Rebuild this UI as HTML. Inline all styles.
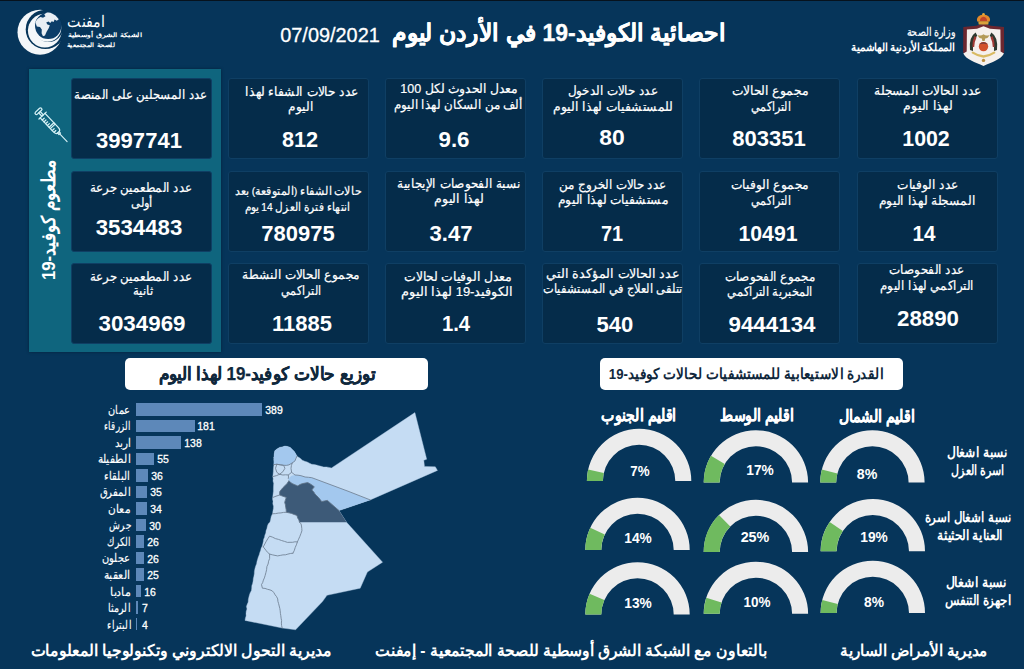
<!DOCTYPE html>
<html lang="ar" dir="rtl"><head><meta charset="utf-8"><title>احصائية الكوفيد-19 في الأردن</title>
<style>
*{margin:0;padding:0;box-sizing:border-box}
html,body{width:1024px;height:669px;overflow:hidden;background:#06355a}
body{position:relative;font-family:"Liberation Sans",sans-serif;color:#fff;direction:rtl}
.abs{position:absolute}
.t{position:absolute;white-space:nowrap;line-height:1;text-align:center}
.card{position:absolute;background:#052c4a;width:141px;height:81px;border-radius:3px;border:1px solid #0f3f64}
.b{font-weight:bold}
.n{direction:ltr}
</style></head>
<body>
<div class="abs" style="left:0;top:0;width:1024px;height:1px;background:#06121d"></div>
<div class="abs" style="left:29px;top:69px;width:192px;height:283px;background:#0f657e;box-shadow:0 0 3px rgba(0,0,0,.35)"></div>
<div class="card" style="left:71px;top:78px"></div>
<div class="t" style="left:141.4px;top:95.4px;font-size:13.2px;transform:translate(-50%,-50%) scaleX(0.907);-webkit-text-stroke:.2px #fff">عدد المسجلين على المنصة</div>
<div class="t b n" style="left:138.5px;top:140.5px;font-size:22px;transform:translate(-50%,-50%) scaleX(1.002);">3997741</div>
<div class="card" style="left:228px;top:78px"></div>
<div class="t" style="left:301.6px;top:92.3px;font-size:13.2px;transform:translate(-50%,-50%) scaleX(0.938);-webkit-text-stroke:.2px #fff">عدد حالات الشفاء لهذا</div>
<div class="t" style="left:301.4px;top:107.1px;font-size:13.2px;transform:translate(-50%,-50%) scaleX(0.930);-webkit-text-stroke:.2px #fff">اليوم</div>
<div class="t b n" style="left:300.4px;top:139.5px;font-size:22px;transform:translate(-50%,-50%) scaleX(0.986);">812</div>
<div class="card" style="left:385px;top:78px"></div>
<div class="t" style="left:458.8px;top:89.3px;font-size:13.2px;transform:translate(-50%,-50%) scaleX(0.947);-webkit-text-stroke:.2px #fff">معدل الحدوث لكل 100</div>
<div class="t" style="left:457.7px;top:104.6px;font-size:13.2px;transform:translate(-50%,-50%) scaleX(0.909);-webkit-text-stroke:.2px #fff">ألف من السكان لهذا اليوم</div>
<div class="t b n" style="left:453.9px;top:139.8px;font-size:22px;transform:translate(-50%,-50%) scaleX(1.013);">9.6</div>
<div class="card" style="left:542px;top:78px"></div>
<div class="t" style="left:613.4px;top:91.4px;font-size:13.2px;transform:translate(-50%,-50%) scaleX(0.920);-webkit-text-stroke:.2px #fff">عدد حالات الدخول</div>
<div class="t" style="left:612.6px;top:106.7px;font-size:13.2px;transform:translate(-50%,-50%) scaleX(0.947);-webkit-text-stroke:.2px #fff">للمستشفيات لهذا اليوم</div>
<div class="t b n" style="left:612.1px;top:138.3px;font-size:22px;transform:translate(-50%,-50%) scaleX(1.041);">80</div>
<div class="card" style="left:699px;top:78px"></div>
<div class="t" style="left:770.2px;top:91.4px;font-size:13.2px;transform:translate(-50%,-50%) scaleX(0.950);-webkit-text-stroke:.2px #fff">مجموع الحالات</div>
<div class="t" style="left:770.5px;top:106.7px;font-size:13.2px;transform:translate(-50%,-50%) scaleX(0.842);-webkit-text-stroke:.2px #fff">التراكمي</div>
<div class="t b n" style="left:769.3px;top:138.5px;font-size:22px;transform:translate(-50%,-50%) scaleX(1.002);">803351</div>
<div class="card" style="left:857px;top:78px"></div>
<div class="t" style="left:927.5px;top:91.4px;font-size:13.2px;transform:translate(-50%,-50%) scaleX(0.939);-webkit-text-stroke:.2px #fff">عدد الحالات المسجلة</div>
<div class="t" style="left:928.2px;top:106.1px;font-size:13.2px;transform:translate(-50%,-50%) scaleX(0.950);-webkit-text-stroke:.2px #fff">لهذا اليوم</div>
<div class="t b n" style="left:925.9px;top:139.2px;font-size:22px;transform:translate(-50%,-50%) scaleX(0.970);">1002</div>
<div class="card" style="left:71px;top:170.5px"></div>
<div class="t" style="left:141.4px;top:188.0px;font-size:13.2px;transform:translate(-50%,-50%) scaleX(0.906);-webkit-text-stroke:.2px #fff">عدد المطعمين جرعة</div>
<div class="t" style="left:141.9px;top:202.7px;font-size:13.2px;transform:translate(-50%,-50%) scaleX(0.880);-webkit-text-stroke:.2px #fff">أولى</div>
<div class="t b n" style="left:138.8px;top:227.9px;font-size:22px;transform:translate(-50%,-50%) scaleX(1.010);">3534483</div>
<div class="card" style="left:228px;top:170.5px"></div>
<div class="t" style="left:297.8px;top:191.4px;font-size:11.6px;transform:translate(-50%,-50%) scaleX(0.917);-webkit-text-stroke:.2px #fff">حالات الشفاء (المتوقعة) بعد</div>
<div class="t" style="left:296.8px;top:206.7px;font-size:11.6px;transform:translate(-50%,-50%) scaleX(0.876);-webkit-text-stroke:.2px #fff">انتهاء فترة العزل 14 يوم</div>
<div class="t b n" style="left:297.9px;top:234.2px;font-size:22px;transform:translate(-50%,-50%) scaleX(0.998);">780975</div>
<div class="card" style="left:385px;top:170.5px"></div>
<div class="t" style="left:458.8px;top:184.3px;font-size:13.2px;transform:translate(-50%,-50%) scaleX(0.927);-webkit-text-stroke:.2px #fff">نسبة الفحوصات الإيجابية</div>
<div class="t" style="left:459.0px;top:198.7px;font-size:13.2px;transform:translate(-50%,-50%) scaleX(0.962);-webkit-text-stroke:.2px #fff">لهذا اليوم</div>
<div class="t b n" style="left:450.9px;top:233.6px;font-size:22px;transform:translate(-50%,-50%) scaleX(1.002);">3.47</div>
<div class="card" style="left:542px;top:170.5px"></div>
<div class="t" style="left:612.6px;top:185.2px;font-size:13.2px;transform:translate(-50%,-50%) scaleX(0.918);-webkit-text-stroke:.2px #fff">عدد حالات الخروج من</div>
<div class="t" style="left:612.6px;top:199.7px;font-size:13.2px;transform:translate(-50%,-50%) scaleX(0.941);-webkit-text-stroke:.2px #fff">مستشفيات لهذا اليوم</div>
<div class="t b n" style="left:612.2px;top:233.6px;font-size:22px;transform:translate(-50%,-50%) scaleX(0.903);">71</div>
<div class="card" style="left:699px;top:170.5px"></div>
<div class="t" style="left:770.2px;top:185.2px;font-size:13.2px;transform:translate(-50%,-50%) scaleX(0.941);-webkit-text-stroke:.2px #fff">مجموع الوفيات</div>
<div class="t" style="left:770.5px;top:200.6px;font-size:13.2px;transform:translate(-50%,-50%) scaleX(0.842);-webkit-text-stroke:.2px #fff">التراكمي</div>
<div class="t b n" style="left:768.2px;top:233.6px;font-size:22px;transform:translate(-50%,-50%) scaleX(0.968);">10491</div>
<div class="card" style="left:857px;top:170.5px"></div>
<div class="t" style="left:927.5px;top:185.2px;font-size:13.2px;transform:translate(-50%,-50%) scaleX(0.935);-webkit-text-stroke:.2px #fff">عدد الوفيات</div>
<div class="t" style="left:927.4px;top:200.6px;font-size:13.2px;transform:translate(-50%,-50%) scaleX(0.944);-webkit-text-stroke:.2px #fff">المسجلة لهذا اليوم</div>
<div class="t b n" style="left:924.3px;top:233.6px;font-size:22px;transform:translate(-50%,-50%) scaleX(0.939);">14</div>
<div class="card" style="left:71px;top:263px"></div>
<div class="t" style="left:141.4px;top:276.9px;font-size:13.2px;transform:translate(-50%,-50%) scaleX(0.906);-webkit-text-stroke:.2px #fff">عدد المطعمين جرعة</div>
<div class="t" style="left:142.5px;top:290.7px;font-size:13.2px;transform:translate(-50%,-50%) scaleX(0.904);-webkit-text-stroke:.2px #fff">ثانية</div>
<div class="t b n" style="left:142.2px;top:323.5px;font-size:22px;transform:translate(-50%,-50%) scaleX(1.016);">3034969</div>
<div class="card" style="left:228px;top:263px"></div>
<div class="t" style="left:301.2px;top:275.3px;font-size:13.2px;transform:translate(-50%,-50%) scaleX(0.929);-webkit-text-stroke:.2px #fff">مجموع الحالات النشطة</div>
<div class="t" style="left:301.4px;top:290.7px;font-size:13.2px;transform:translate(-50%,-50%) scaleX(0.844);-webkit-text-stroke:.2px #fff">التراكمي</div>
<div class="t b n" style="left:302.4px;top:324.3px;font-size:22px;transform:translate(-50%,-50%) scaleX(0.997);">11885</div>
<div class="card" style="left:385px;top:263px"></div>
<div class="t" style="left:457.8px;top:276.9px;font-size:13.2px;transform:translate(-50%,-50%) scaleX(0.955);-webkit-text-stroke:.2px #fff">معدل الوفيات لحالات</div>
<div class="t" style="left:456.9px;top:291.6px;font-size:13.2px;transform:translate(-50%,-50%) scaleX(0.987);-webkit-text-stroke:.2px #fff">الكوفيد-19 لهذا اليوم</div>
<div class="t b n" style="left:455.9px;top:324.3px;font-size:22px;transform:translate(-50%,-50%) scaleX(0.922);">1.4</div>
<div class="card" style="left:542px;top:263px"></div>
<div class="t" style="left:613.4px;top:274.4px;font-size:13.2px;transform:translate(-50%,-50%) scaleX(0.974);-webkit-text-stroke:.2px #fff">عدد الحالات المؤكدة التي</div>
<div class="t" style="left:613.4px;top:289.1px;font-size:13.2px;transform:translate(-50%,-50%) scaleX(0.877);-webkit-text-stroke:.2px #fff">تتلقى العلاج في المستشفيات</div>
<div class="t b n" style="left:614.7px;top:324.6px;font-size:22px;transform:translate(-50%,-50%) scaleX(1.002);">540</div>
<div class="card" style="left:699px;top:263px"></div>
<div class="t" style="left:769.5px;top:276.9px;font-size:13.2px;transform:translate(-50%,-50%) scaleX(0.917);-webkit-text-stroke:.2px #fff">مجموع الفحوصات</div>
<div class="t" style="left:769.9px;top:292.2px;font-size:13.2px;transform:translate(-50%,-50%) scaleX(0.872);-webkit-text-stroke:.2px #fff">المخبرية التراكمي</div>
<div class="t b n" style="left:771.8px;top:324.6px;font-size:22px;transform:translate(-50%,-50%) scaleX(1.017);">9444134</div>
<div class="card" style="left:857px;top:263px"></div>
<div class="t" style="left:927.3px;top:270.1px;font-size:13.2px;transform:translate(-50%,-50%) scaleX(0.920);-webkit-text-stroke:.2px #fff">عدد الفحوصات</div>
<div class="t" style="left:927.4px;top:285.5px;font-size:13.2px;transform:translate(-50%,-50%) scaleX(0.905);-webkit-text-stroke:.2px #fff">التراكمي لهذا اليوم</div>
<div class="t b n" style="left:927.8px;top:318.5px;font-size:22px;transform:translate(-50%,-50%) scaleX(1.013);">28890</div>
<div class="abs" style="left:124.7px;top:357.6px;width:303px;height:32px;background:#fff;border-radius:5px"></div>
<div class="t b" style="left:267.3px;top:374.3px;font-size:18px;transform:translate(-50%,-50%) scaleX(0.942);color:#10283c;-webkit-text-stroke:.25px #10283c">توزيع حالات كوفيد-19 لهذا اليوم</div>
<div class="abs" style="left:600px;top:357.6px;width:303px;height:32px;background:#fff;border-radius:5px"></div>
<div class="t b" style="left:745.9px;top:373.8px;font-size:14.5px;transform:translate(-50%,-50%) scaleX(0.908);color:#10283c">القدرة الاستيعابية للمستشفيات لحالات كوفيد-19</div>
<div class="t b" style="left:559.2px;top:34.0px;font-size:23.5px;transform:translate(-50%,-50%) scaleX(0.978);-webkit-text-stroke:.35px #fff">احصائية الكوفيد-19 في الأردن ليوم</div>
<div class="t n" style="left:330.2px;top:33.7px;font-size:21px;transform:translate(-50%,-50%) scaleX(0.947);-webkit-text-stroke:.3px #fff">07/09/2021</div>
<div class="t" style="left:931.1px;top:32.6px;font-size:11.5px;transform:translate(-50%,-50%) scaleX(0.796);-webkit-text-stroke:.2px #fff">وزارة الصحة</div>
<div class="t b" style="left:903.4px;top:47.3px;font-size:10.5px;transform:translate(-50%,-50%) scaleX(0.948);">المملكة الأردنية الهاشمية</div>
<svg class="abs" style="left:950px;top:6px" width="66" height="66" viewBox="0 0 66 66">
<path fill="#6c2730" d="M33.5 17.8 L41 19.8 L54 21 L54.2 46.4 L49 49.5 L18 49.5 L13.1 46.4 L13.3 21 L26 19.8 Z"/>
<path fill="#f5f0ed" d="M33.5 20.3 L40 22.8 L50.4 23.4 L50.6 45.6 L54 47.6 C51 53.5 42 56.5 33.5 59.9 C25 56.5 16 53.5 13.3 47.6 L16.7 45.6 L16.9 23.4 L27 22.8 Z"/>
<path fill="#2e3a30" d="M25.6 26.4 Q18.5 31 20 44 L23 45 Q22.5 36 27.2 29.6 Z"/>
<path fill="#2e3a30" d="M41.4 26.4 Q48.5 31 47 44 L44 45 Q44.5 36 39.8 29.6 Z"/>
<path fill="#a03a35" d="M24.5 30 Q22 35 22.4 41 L24.2 41 Q24.2 36 26.5 31.5 Z"/>
<path fill="#a03a35" d="M42.5 30 Q45 35 44.6 41 L42.8 41 Q42.8 36 40.5 31.5 Z"/>
<path fill="#b39a58" d="M27.5 29 Q31 30.5 33.5 28.2 Q36 30.5 39.5 29 Q38 32.6 35.2 32.6 L34.6 35 L32.4 35 L31.8 32.6 Q29 32.6 27.5 29 Z"/>
<circle cx="33.5" cy="40.6" r="4.7" fill="#d2512c"/>
<path fill="#7d3c3a" d="M29.3 38.5 A4.7 4.7 0 0 1 37.7 38.5 Q33.5 37 29.3 38.5 Z"/>
<path fill="none" stroke="#d9ba62" stroke-width="2.3" stroke-linecap="round" d="M22.8 46.6 Q28 50 33.5 50.5 Q39 50 44.2 46.6"/>
<circle cx="33.5" cy="54.4" r="1.7" fill="#b98b3c"/>
<path fill="#d9a13a" d="M28.3 15.3 H38.7 L38.3 18.4 H28.7 Z"/>
<path fill="#e2892b" d="M27.2 15.5 Q25.6 9.6 33.5 8.5 Q41.4 9.6 39.8 15.5 Z"/>
<path fill="#c2432a" d="M30 15 Q29.7 11.4 33.5 10.7 Q37.3 11.4 37 15 Z"/>
<circle cx="33.5" cy="8.3" r="1.3" fill="#e3a838"/>
</svg>
<svg class="abs" style="left:0;top:0" width="80" height="66" viewBox="0 0 80 66">
<circle cx="40" cy="32.2" r="22.5" fill="#f4f7fa"/>
<circle cx="45.4" cy="29.4" r="19.7" fill="#06355a"/>
<circle cx="44.8" cy="30.6" r="16.9" fill="#f4f7fa"/>
<circle cx="48.6" cy="27.6" r="14.4" fill="#06355a"/>
<circle cx="47.4" cy="27.8" r="13.9" fill="#f4f7fa"/>
<circle cx="48.2" cy="25.8" r="13.2" fill="#0c3d68"/>
<path fill="#e9eef3" d="M35.5 22.500 Q36.5 18.5 40.5 17 L43 17.8 L45.5 16.2 L44.2 14.2 L47 12.6 Q50 12.2 52 13.4 L55.5 15.6 L58.8 19.2 L56.8 20.8 L54.6 19.6 L53.6 22 L51.8 21.2 L50.2 23 L48.6 21.4 L46.2 22.4 L47.4 24.6 L49.8 25.2 L48.8 28 L46.6 31.8 L45 35.4 L43 36.2 L41.6 33.2 L41.8 29.4 L40 27 L36.8 26.6 Z"/>
</svg>
<div class="t" style="left:85.8px;top:21.8px;font-size:16px;transform:translate(-50%,-50%) scaleX(0.883);">امفنت</div>
<div class="t b" style="left:104.6px;top:34.8px;font-size:6.2px;transform:translate(-50%,-50%) scaleX(1.300);">الشبكة الشرق أوسطية</div>
<div class="t b" style="left:91.2px;top:44.6px;font-size:6.2px;transform:translate(-50%,-50%) scaleX(1.153);">للصحة المجتمعية</div>
<svg class="abs" style="left:0;top:0" width="100" height="160" viewBox="0 0 100 160" fill="none" stroke="#d9f3f7" stroke-width="1.25" stroke-linecap="round" stroke-linejoin="round">
<g transform="translate(38.5 111.2) rotate(46.8)">
<rect x="-1.4" y="-4.2" width="2.8" height="8.4" rx="1.4"/>
<path d="M1.4 -1 H6 M1.4 1 H6"/>
<path d="M6 -5 V5"/>
<path d="M6 -3.3 H25 Q29 -3.3 29 -1 V1 Q29 3.3 25 3.3 H6"/>
<path d="M19 -3.3 V3.3 M20.8 -3.3 V3.3"/>
<path d="M9 3.3 V0.6 M11.5 3.3 V0.6 M14 3.3 V0.6 M16.5 3.3 V0.6 M23.5 3.3 V0.6 M26 3 V0.6"/>
<path d="M29 -1 H31 V1 H29"/>
<path d="M31 0 H41.8" stroke-width="1.1"/>
</g></svg>
<div class="t b" style="left:49.0px;top:220.0px;font-size:18.5px;transform:translate(-50%,-50%) rotate(-90deg) scaleX(0.903);">مطعوم كوفيد-19</div>
<!-- bar chart -->
<div class="abs" style="left:136.0px;top:403.10px;width:126.2px;height:12.5px;background:#5d88b9"></div>
<div class="t" style="left:119.3px;top:409.7px;font-size:12px;transform:translate(-50%,-50%) scaleX(0.815);-webkit-text-stroke:.15px #fff">عمان</div>
<div class="t n" style="left:273.9px;top:409.8px;font-size:10.6px;transform:translate(-50%,-50%) scaleX(0.984);-webkit-text-stroke:.3px #fff">389</div>
<div class="abs" style="left:136.0px;top:419.63px;width:58.7px;height:12.5px;background:#5d88b9"></div>
<div class="t" style="left:117.4px;top:426.2px;font-size:12px;transform:translate(-50%,-50%) scaleX(0.717);-webkit-text-stroke:.15px #fff">الزرقاء</div>
<div class="t n" style="left:206.4px;top:426.3px;font-size:10.6px;transform:translate(-50%,-50%) scaleX(0.984);-webkit-text-stroke:.3px #fff">181</div>
<div class="abs" style="left:136.0px;top:436.16px;width:44.8px;height:12.5px;background:#5d88b9"></div>
<div class="t" style="left:122.6px;top:442.7px;font-size:12px;transform:translate(-50%,-50%) scaleX(0.861);-webkit-text-stroke:.15px #fff">اربد</div>
<div class="t n" style="left:192.5px;top:442.8px;font-size:10.6px;transform:translate(-50%,-50%) scaleX(0.984);-webkit-text-stroke:.3px #fff">138</div>
<div class="abs" style="left:136.0px;top:452.69px;width:17.8px;height:12.5px;background:#5d88b9"></div>
<div class="t" style="left:114.0px;top:459.2px;font-size:12px;transform:translate(-50%,-50%) scaleX(0.884);-webkit-text-stroke:.15px #fff">الطفيلة</div>
<div class="t n" style="left:162.6px;top:459.3px;font-size:10.6px;transform:translate(-50%,-50%) scaleX(0.983);-webkit-text-stroke:.3px #fff">55</div>
<div class="abs" style="left:136.0px;top:469.22px;width:11.7px;height:12.5px;background:#5d88b9"></div>
<div class="t" style="left:117.4px;top:475.8px;font-size:12px;transform:translate(-50%,-50%) scaleX(0.832);-webkit-text-stroke:.15px #fff">البلقاء</div>
<div class="t n" style="left:156.5px;top:475.9px;font-size:10.6px;transform:translate(-50%,-50%) scaleX(0.983);-webkit-text-stroke:.3px #fff">36</div>
<div class="abs" style="left:136.0px;top:485.75px;width:11.4px;height:12.5px;background:#5d88b9"></div>
<div class="t" style="left:115.3px;top:492.3px;font-size:12px;transform:translate(-50%,-50%) scaleX(0.836);-webkit-text-stroke:.15px #fff">المفرق</div>
<div class="t n" style="left:156.2px;top:492.4px;font-size:10.6px;transform:translate(-50%,-50%) scaleX(0.983);-webkit-text-stroke:.3px #fff">35</div>
<div class="abs" style="left:136.0px;top:502.28px;width:11.0px;height:12.5px;background:#5d88b9"></div>
<div class="t" style="left:119.3px;top:508.8px;font-size:12px;transform:translate(-50%,-50%) scaleX(0.880);-webkit-text-stroke:.15px #fff">معان</div>
<div class="t n" style="left:155.8px;top:508.9px;font-size:10.6px;transform:translate(-50%,-50%) scaleX(0.983);-webkit-text-stroke:.3px #fff">34</div>
<div class="abs" style="left:136.0px;top:518.81px;width:9.7px;height:12.5px;background:#5d88b9"></div>
<div class="t" style="left:119.6px;top:525.4px;font-size:12px;transform:translate(-50%,-50%) scaleX(0.741);-webkit-text-stroke:.15px #fff">جرش</div>
<div class="t n" style="left:154.5px;top:525.5px;font-size:10.6px;transform:translate(-50%,-50%) scaleX(0.983);-webkit-text-stroke:.3px #fff">30</div>
<div class="abs" style="left:136.0px;top:535.34px;width:8.4px;height:12.5px;background:#5d88b9"></div>
<div class="t" style="left:118.7px;top:541.9px;font-size:12px;transform:translate(-50%,-50%) scaleX(0.748);-webkit-text-stroke:.15px #fff">الكرك</div>
<div class="t n" style="left:153.2px;top:542.0px;font-size:10.6px;transform:translate(-50%,-50%) scaleX(0.983);-webkit-text-stroke:.3px #fff">26</div>
<div class="abs" style="left:136.0px;top:551.87px;width:8.4px;height:12.5px;background:#5d88b9"></div>
<div class="t" style="left:116.4px;top:558.4px;font-size:12px;transform:translate(-50%,-50%) scaleX(0.821);-webkit-text-stroke:.15px #fff">عجلون</div>
<div class="t n" style="left:153.2px;top:558.5px;font-size:10.6px;transform:translate(-50%,-50%) scaleX(0.983);-webkit-text-stroke:.3px #fff">26</div>
<div class="abs" style="left:136.0px;top:568.40px;width:8.1px;height:12.5px;background:#5d88b9"></div>
<div class="t" style="left:117.2px;top:575.0px;font-size:12px;transform:translate(-50%,-50%) scaleX(0.903);-webkit-text-stroke:.15px #fff">العقبة</div>
<div class="t n" style="left:152.9px;top:575.1px;font-size:10.6px;transform:translate(-50%,-50%) scaleX(0.983);-webkit-text-stroke:.3px #fff">25</div>
<div class="abs" style="left:136.0px;top:584.93px;width:5.2px;height:12.5px;background:#5d88b9"></div>
<div class="t" style="left:120.1px;top:591.5px;font-size:12px;transform:translate(-50%,-50%) scaleX(0.927);-webkit-text-stroke:.15px #fff">مادبا</div>
<div class="t n" style="left:150.0px;top:591.6px;font-size:10.6px;transform:translate(-50%,-50%) scaleX(0.983);-webkit-text-stroke:.3px #fff">16</div>
<div class="abs" style="left:136.0px;top:601.46px;width:2.3px;height:12.5px;background:#5d88b9"></div>
<div class="t" style="left:119.4px;top:608.0px;font-size:12px;transform:translate(-50%,-50%) scaleX(0.782);-webkit-text-stroke:.15px #fff">الرمثا</div>
<div class="t n" style="left:144.9px;top:608.1px;font-size:10.6px;transform:translate(-50%,-50%) scaleX(0.982);-webkit-text-stroke:.3px #fff">7</div>
<div class="abs" style="left:136.0px;top:617.99px;width:1.3px;height:12.5px;background:#5d88b9"></div>
<div class="t" style="left:118.5px;top:624.5px;font-size:12px;transform:translate(-50%,-50%) scaleX(0.761);-webkit-text-stroke:.15px #fff">البتراء</div>
<div class="t n" style="left:144.9px;top:624.6px;font-size:10.6px;transform:translate(-50%,-50%) scaleX(0.982);-webkit-text-stroke:.3px #fff">4</div>
<svg class="abs" style="left:0;top:0" width="1024" height="669" viewBox="0 0 1024 669">
<g stroke="#6f8092" stroke-width="0.85" stroke-linejoin="round" stroke-linecap="round" fill="none">
<path fill="#c5dcf3" stroke="#a9c3dc" stroke-width="0.4" d="M273.9 457.5 L274.2 454.1 L274.8 450.8 L277.0 448.9 L279.5 447.4 L282.2 446.9 L284.9 446.1 L287.7 446.5 L290.3 447.4 L292.3 449.5 L294.3 451.5 L295.7 453.8 L297.0 456.2 L299.9 458.0 L302.4 460.2 L304.7 461.2 L307.2 462.0 L309.5 463.2 L311.8 464.3 L314.2 464.5 L316.6 465.0 L318.9 465.7 L321.2 466.3 L323.7 467.0 L326.4 466.9 L329.0 467.4 L331.5 468.0 L414.9 412.6 L426.7 459.2 L423.8 460.3 L424.5 466.4 L435.3 466.8 L437.5 470.4 L370.2 499.9 L339.0 510.6 L346.6 522.3 L382.6 562.2 L367.4 572.0 L360.2 588.2 L327.0 595.3 L322.5 601.6 L295.6 629.8 L282.2 628.0 L245.0 620.4 L245.4 618.1 L246.1 615.9 L246.0 613.5 L246.2 611.2 L247.0 609.0 L246.4 606.5 L247.2 604.3 L248.2 602.1 L248.3 599.6 L248.8 597.3 L249.4 595.0 L250.2 592.7 L251.4 590.6 L251.7 588.2 L251.8 585.7 L252.6 583.4 L253.1 581.0 L253.3 578.6 L253.9 576.2 L254.3 573.8 L254.4 571.2 L254.9 568.7 L255.6 566.2 L256.6 563.8 L257.0 561.3 L257.7 559.1 L258.3 556.9 L259.2 554.8 L259.8 552.6 L260.6 550.5 L261.1 548.2 L262.2 546.1 L262.8 543.8 L263.3 541.5 L263.6 539.3 L264.5 537.2 L264.9 535.1 L265.8 533.0 L266.0 530.8 L266.9 528.5 L267.4 526.0 L268.3 523.7 L270.0 521.9 L270.6 519.5 L271.2 516.4 L272.6 513.5 L272.9 511.0 L273.4 508.6 L273.5 506.2 L272.8 503.8 L273.0 501.3 L272.5 498.9 L272.8 496.5 L273.1 493.8 L273.4 491.2 L273.4 488.5 L273.5 485.8 L273.7 483.4 L273.0 481.1 L273.2 478.7 L272.8 476.4 L273.1 474.0 L273.3 471.7 L273.4 469.3 L273.6 466.9 L274.0 464.6 L274.2 462.2 L273.8 459.8 L273.9 457.5 Z"/>
<path fill="#a3c8ee" stroke="none" d="M273.9 457.5 L274.2 454.1 L274.8 450.8 L277.0 448.9 L279.5 447.4 L282.2 446.9 L284.9 446.1 L287.7 446.5 L290.3 447.4 L292.3 449.5 L294.3 451.5 L295.7 453.8 L297.0 456.2 L295.9 458.5 L295.0 460.9 L292.3 462.9 L288.9 464.9 L286.3 465.4 L283.6 465.3 L280.2 464.7 L276.8 464.3 L273.7 464.6 Z"/>
<path fill="#a3c8ee" stroke="none" d="M288.8 481.0 L288.3 478.4 L291.6 475.7 L295.0 475.0 L298.0 475.2 L301.0 475.7 L305.1 477.0 L308.5 477.3 L311.8 477.7 L348.0 491.2 L370.2 499.9 L339.0 510.6 L327.4 500.4 L324.5 500.9 L321.7 501.6 L320.2 499.6 L318.6 497.6 L316.8 495.8 L315.0 494.0 L313.7 491.8 L311.8 490.0 L314.3 486.8 L312.2 485.2 L310.0 483.8 L307.7 482.6 L305.1 483.1 L302.5 483.6 L300.0 484.5 L297.8 485.9 L294.9 484.8 L292.1 483.5 L288.8 481.0 Z"/>
<path fill="#3d5a78" stroke="none" d="M288.8 481.0 L292.1 483.5 L294.9 484.8 L297.8 485.9 L300.0 484.5 L302.5 483.6 L305.1 483.1 L307.7 482.6 L310.0 483.8 L312.2 485.2 L314.3 486.8 L311.8 490.0 L313.7 491.8 L315.0 494.0 L316.8 495.8 L318.6 497.6 L320.2 499.6 L321.7 501.6 L324.5 500.9 L327.4 500.4 L339.0 510.6 L346.6 522.3 L299.5 522.3 L298.9 519.9 L297.6 517.9 L297.0 515.5 L294.2 514.5 L291.5 513.4 L288.9 512.8 L286.3 512.3 L286.2 509.8 L285.7 507.3 L285.4 504.8 L284.7 502.4 L285.4 499.9 L286.3 497.4 L283.0 496.3 L279.7 495.0 L279.7 491.7 L281.3 489.6 L283.0 487.6 L285.1 485.6 L287.1 483.4 L288.8 481.0 Z"/>
<path d="M297.0 456.2 L295.9 458.5 L295.0 460.9 L292.3 462.9 L288.9 464.9 L286.3 465.4 L283.6 465.3 L280.2 464.7 L276.8 464.3 L273.7 464.6"/>
<path d="M276.8 464.3 L280.2 464.9 L283.6 465.3 L284.9 468.3 L282.9 471.7 L279.5 474.3 L276.8 472.3 L275.5 468.3 L276.8 464.3"/>
<path d="M292.3 462.9 L291.4 465.5 L291.0 468.3 L291.6 472.3 L288.3 475.0 L285.6 474.8 L282.9 475.0 L279.5 474.3"/>
<path d="M291.6 472.3 L295.0 475.0 L298.0 475.2 L301.0 475.7 L305.1 477.0 L308.5 477.3 L311.8 477.7 L348.0 491.2 L370.2 499.9"/>
<path d="M272.9 476.6 L276.5 475.6 L279.5 474.3"/>
<path d="M288.3 475.0 L288.5 477.0 L288.3 478.4"/>
<path stroke="#5d7187" d="M288.8 481.0 L292.1 483.5 L294.9 484.8 L297.8 485.9 L300.0 484.5 L302.5 483.6 L305.1 483.1 L307.7 482.6 L310.0 483.8 L312.2 485.2 L314.3 486.8 L311.8 490.0 L313.7 491.8 L315.0 494.0 L316.8 495.8 L318.6 497.6 L320.2 499.6 L321.7 501.6 L324.5 500.9 L327.4 500.4 L339.0 510.6"/>
<path stroke="#5d7187" d="M299.5 522.3 L298.9 519.9 L297.6 517.9 L297.0 515.5 L294.2 514.5 L291.5 513.4 L288.9 512.8 L286.3 512.3 L286.2 509.8 L285.7 507.3 L285.4 504.8 L284.7 502.4 L285.4 499.9 L286.3 497.4 L283.0 496.3 L279.7 495.0 L279.7 491.7 L281.3 489.6 L283.0 487.6 L285.1 485.6 L287.1 483.4 L288.8 481.0"/>
<path d="M273.0 497.4 L276.0 496.2 L279.7 495.0"/>
<path d="M272.6 513.8 L275.5 513.6 L278.2 513.1 L281.0 512.9 L283.6 512.4 L286.3 512.3"/>
<path d="M299.5 522.3 L301.0 523.6 L301.5 526.0 L301.8 528.4 L301.9 530.8 L300.9 533.7 L299.8 536.5 L298.6 539.2 L297.4 541.9 L296.4 544.8 L295.2 547.5 L294.3 550.5 L292.9 553.2"/>
<path d="M263.3 546.9 L264.8 544.0 L266.3 541.2 L267.9 538.6 L269.6 536.1 L272.6 537.2 L275.4 538.6 L278.5 539.4 L281.5 540.5 L284.5 541.4 L287.5 542.4 L290.0 542.3 L292.5 542.3 L294.9 541.8 L297.4 541.9"/>
<path d="M292.9 553.2 L290.4 553.5 L287.9 554.1 L285.5 554.8 L282.9 554.9 L280.3 555.4 L277.7 555.9 L275.0 555.4 L272.3 554.8 L269.6 554.1 L267.6 552.4 L266.0 550.4 L263.3 546.9"/>
<path d="M269.6 554.1 L269.6 558.6 L268.6 561.2 L268.1 564.0 L266.9 566.6 L266.6 569.7 L265.9 572.6 L265.1 575.6 L264.4 577.9 L263.4 580.1 L262.7 582.5 L261.5 584.6 L262.4 588.2 L265.0 588.4 L267.5 589.3 L270.0 589.9 L272.3 590.9 L273.9 592.7 L275.1 594.8 L276.6 596.7 L277.7 598.9 L277.9 601.3 L278.6 603.6 L279.2 606.0 L279.8 608.4 L280.2 610.8 L280.4 613.3 L280.8 615.7 L281.1 618.2 L281.6 620.6 L281.4 623.1 L281.6 625.6 L282.2 628.0"/>
</g></svg>
<svg class="abs" style="left:0;top:0" width="1024" height="669" viewBox="0 0 1024 669"><path d="M586.90 481.00 A52.2 52.2 0 0 1 691.30 481.00 L675.30 481.00 A36.2 36.2 0 0 0 602.90 481.00 Z" fill="#ececec"/><path d="M586.90 481.00 A52.2 52.2 0 0 1 588.16 469.61 L603.77 473.10 A36.2 36.2 0 0 0 602.90 481.00 Z" fill="#6fba5f"/><path d="M703.70 482.40 A52.2 52.2 0 0 1 808.10 482.40 L792.10 482.40 A36.2 36.2 0 0 0 719.70 482.40 Z" fill="#ececec"/><path d="M703.70 482.40 A52.2 52.2 0 0 1 710.97 455.83 L724.74 463.97 A36.2 36.2 0 0 0 719.70 482.40 Z" fill="#6fba5f"/><path d="M820.20 482.50 A52.2 52.2 0 0 1 924.60 482.50 L908.60 482.50 A36.2 36.2 0 0 0 836.20 482.50 Z" fill="#ececec"/><path d="M820.20 482.50 A52.2 52.2 0 0 1 821.84 469.52 L837.34 473.50 A36.2 36.2 0 0 0 836.20 482.50 Z" fill="#6fba5f"/><path d="M585.30 550.00 A52.2 52.2 0 0 1 689.70 550.00 L673.70 550.00 A36.2 36.2 0 0 0 601.30 550.00 Z" fill="#ececec"/><path d="M585.30 550.00 A52.2 52.2 0 0 1 590.27 527.77 L604.75 534.59 A36.2 36.2 0 0 0 601.30 550.00 Z" fill="#6fba5f"/><path d="M703.70 552.00 A52.2 52.2 0 0 1 808.10 552.00 L792.10 552.00 A36.2 36.2 0 0 0 719.70 552.00 Z" fill="#ececec"/><path d="M703.70 552.00 A52.2 52.2 0 0 1 718.99 515.09 L730.30 526.40 A36.2 36.2 0 0 0 719.70 552.00 Z" fill="#6fba5f"/><path d="M820.60 551.30 A52.2 52.2 0 0 1 925.00 551.30 L909.00 551.30 A36.2 36.2 0 0 0 836.60 551.30 Z" fill="#ececec"/><path d="M820.60 551.30 A52.2 52.2 0 0 1 829.63 521.96 L842.86 530.95 A36.2 36.2 0 0 0 836.60 551.30 Z" fill="#6fba5f"/><path d="M585.30 614.50 A52.2 52.2 0 0 1 689.70 614.50 L673.70 614.50 A36.2 36.2 0 0 0 601.30 614.50 Z" fill="#ececec"/><path d="M585.30 614.50 A52.2 52.2 0 0 1 589.59 593.77 L604.28 600.12 A36.2 36.2 0 0 0 601.30 614.50 Z" fill="#6fba5f"/><path d="M703.70 613.80 A52.2 52.2 0 0 1 808.10 613.80 L792.10 613.80 A36.2 36.2 0 0 0 719.70 613.80 Z" fill="#ececec"/><path d="M703.70 613.80 A52.2 52.2 0 0 1 706.25 597.67 L721.47 602.61 A36.2 36.2 0 0 0 719.70 613.80 Z" fill="#6fba5f"/><path d="M820.60 613.00 A52.2 52.2 0 0 1 925.00 613.00 L909.00 613.00 A36.2 36.2 0 0 0 836.60 613.00 Z" fill="#ececec"/><path d="M820.60 613.00 A52.2 52.2 0 0 1 822.24 600.02 L837.74 604.00 A36.2 36.2 0 0 0 836.60 613.00 Z" fill="#6fba5f"/></svg>
<div class="t b n" style="left:639.6px;top:471.2px;font-size:14.8px;transform:translate(-50%,-50%) scaleX(0.902);">7%</div>
<div class="t b n" style="left:760.0px;top:470.3px;font-size:14.8px;transform:translate(-50%,-50%) scaleX(0.928);">17%</div>
<div class="t b n" style="left:867.0px;top:474.0px;font-size:14.8px;transform:translate(-50%,-50%) scaleX(0.958);">8%</div>
<div class="t b n" style="left:638.2px;top:537.8px;font-size:14.8px;transform:translate(-50%,-50%) scaleX(0.928);">14%</div>
<div class="t b n" style="left:755.1px;top:537.3px;font-size:14.8px;transform:translate(-50%,-50%) scaleX(0.969);">25%</div>
<div class="t b n" style="left:874.2px;top:536.5px;font-size:14.8px;transform:translate(-50%,-50%) scaleX(0.928);">19%</div>
<div class="t b n" style="left:638.2px;top:603.1px;font-size:14.8px;transform:translate(-50%,-50%) scaleX(0.928);">13%</div>
<div class="t b n" style="left:756.5px;top:602.3px;font-size:14.8px;transform:translate(-50%,-50%) scaleX(0.911);">10%</div>
<div class="t b n" style="left:873.5px;top:602.3px;font-size:14.8px;transform:translate(-50%,-50%) scaleX(0.935);">8%</div>
<div class="t b" style="left:638.8px;top:415.3px;font-size:17px;transform:translate(-50%,-50%) scaleX(0.827);-webkit-text-stroke:.25px #fff">اقليم الجنوب</div>
<div class="t b" style="left:756.6px;top:415.3px;font-size:17px;transform:translate(-50%,-50%) scaleX(0.826);-webkit-text-stroke:.25px #fff">اقليم الوسط</div>
<div class="t b" style="left:876.9px;top:416.0px;font-size:17px;transform:translate(-50%,-50%) scaleX(0.831);-webkit-text-stroke:.25px #fff">اقليم الشمال</div>
<div class="t b" style="left:976.8px;top:452.5px;font-size:13.5px;transform:translate(-50%,-50%) scaleX(0.873);">نسبة اشغال</div>
<div class="t b" style="left:978.4px;top:471.0px;font-size:13.5px;transform:translate(-50%,-50%) scaleX(0.785);">اسرة العزل</div>
<div class="t b" style="left:968.4px;top:517.5px;font-size:13.5px;transform:translate(-50%,-50%) scaleX(0.839);">نسبة اشغال اسرة</div>
<div class="t b" style="left:970.2px;top:536.0px;font-size:13.5px;transform:translate(-50%,-50%) scaleX(0.865);">العناية الحثيثة</div>
<div class="t b" style="left:976.4px;top:583.0px;font-size:13.5px;transform:translate(-50%,-50%) scaleX(0.884);">نسبة اشغال</div>
<div class="t b" style="left:978.4px;top:601.3px;font-size:13.5px;transform:translate(-50%,-50%) scaleX(0.848);">اجهزة التنفس</div>
<div class="t b" style="left:180.5px;top:651.0px;font-size:16px;transform:translate(-50%,-50%) scaleX(0.984);">مديرية التحول الالكتروني وتكنولوجيا المعلومات</div>
<div class="t b" style="left:571.0px;top:651.0px;font-size:16px;transform:translate(-50%,-50%) scaleX(0.975);">بالتعاون مع الشبكة الشرق أوسطية للصحة المجتمعية - إمفنت</div>
<div class="t b" style="left:914.2px;top:651.3px;font-size:16px;transform:translate(-50%,-50%) scaleX(0.952);">مديرية الأمراض السارية</div>
</body></html>
